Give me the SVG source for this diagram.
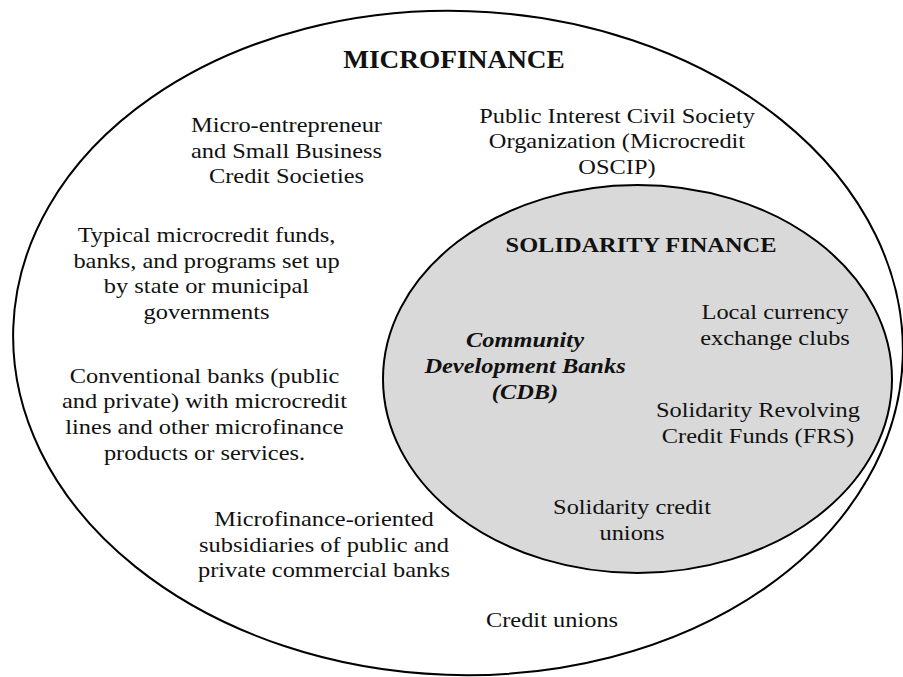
<svg xmlns="http://www.w3.org/2000/svg" width="903" height="677" viewBox="0 0 903 677">
  <style>
    .ring { fill: none; stroke: #000; stroke-width: 2; }
    .inner { fill: #d9d9d9; stroke: #000; stroke-width: 2; }
    text { font-family: "Liberation Serif", "Times New Roman", serif; font-size: 21.7px; fill: #111; text-anchor: middle; }
    .title { font-weight: bold; font-size: 24.3px; }
    .subtitle { font-weight: bold; }
    .key { font-weight: bold; font-style: italic; }
  </style>
  <rect width="903" height="677" fill="#fff"/>

  <g id="microfinance">
    <ellipse class="ring" cx="458" cy="343" rx="445" ry="332" transform="rotate(2 458 343)"/>
    <text class="title" transform="translate(454,68) scale(1.125,1)">MICROFINANCE</text>
  </g>

  <g id="solidarity-finance">
    <ellipse class="inner" cx="637.5" cy="379" rx="254.5" ry="194"/>
    <text class="subtitle" transform="translate(641,252) scale(1.125,1)">SOLIDARITY FINANCE</text>
  </g>

  <g id="credit-societies">
    <text transform="translate(286.5,132) scale(1.125,1)"><tspan x="0">Micro-entrepreneur</tspan><tspan x="0" dy="25.7">and Small Business</tspan><tspan x="0" dy="25.7">Credit Societies</tspan></text>
  </g>

  <g id="oscip">
    <text transform="translate(617,122.5) scale(1.125,1)"><tspan x="0">Public Interest Civil Society</tspan><tspan x="0" dy="25.7">Organization (Microcredit</tspan><tspan x="0" dy="25.7">OSCIP)</tspan></text>
  </g>

  <g id="government-programs">
    <text transform="translate(206.5,242) scale(1.125,1)"><tspan x="0">Typical microcredit funds,</tspan><tspan x="0" dy="25.7">banks, and programs set up</tspan><tspan x="0" dy="25.7">by state or municipal</tspan><tspan x="0" dy="25.7">governments</tspan></text>
  </g>

  <g id="conventional-banks">
    <text transform="translate(204.5,382.5) scale(1.125,1)"><tspan x="0">Conventional banks (public</tspan><tspan x="0" dy="25.7">and private) with microcredit</tspan><tspan x="0" dy="25.7">lines and other microfinance</tspan><tspan x="0" dy="25.7">products or services.</tspan></text>
  </g>

  <g id="bank-subsidiaries">
    <text transform="translate(324,526) scale(1.125,1)"><tspan x="0">Microfinance-oriented</tspan><tspan x="0" dy="25.7">subsidiaries of public and</tspan><tspan x="0" dy="25.7">private commercial banks</tspan></text>
  </g>

  <g id="credit-unions">
    <text transform="translate(552,627) scale(1.125,1)">Credit unions</text>
  </g>

  <g id="cdb">
    <text class="key" transform="translate(525,347) scale(1.125,1)"><tspan x="0">Community</tspan><tspan x="0" dy="26">Development Banks</tspan><tspan x="0" dy="26">(CDB)</tspan></text>
  </g>

  <g id="exchange-clubs">
    <text transform="translate(775,319) scale(1.125,1)"><tspan x="0">Local currency</tspan><tspan x="0" dy="26">exchange clubs</tspan></text>
  </g>

  <g id="revolving-funds">
    <text transform="translate(758,417) scale(1.125,1)"><tspan x="0">Solidarity Revolving</tspan><tspan x="0" dy="26">Credit Funds (FRS)</tspan></text>
  </g>

  <g id="solidarity-credit-unions">
    <text transform="translate(632,514) scale(1.125,1)"><tspan x="0">Solidarity credit</tspan><tspan x="0" dy="26">unions</tspan></text>
  </g>

  <g id="connectors"/>
</svg>
